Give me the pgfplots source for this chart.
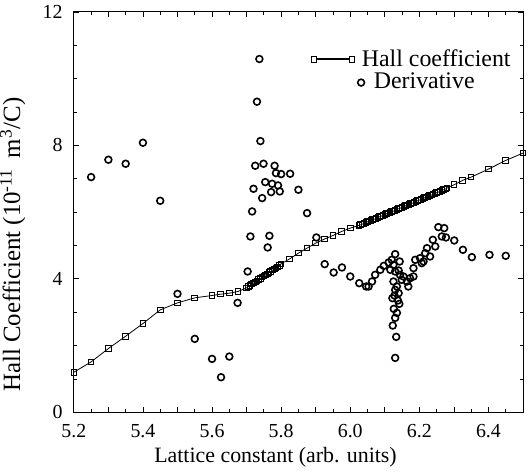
\documentclass[border=0pt]{standalone}
\usepackage{fontspec}
\setmainfont{Liberation Serif}
\usepackage{pgfplots}
\pgfplotsset{compat=1.18}
\pgfplotsset{
  hallleg/.style={legend image code/.code={%
    \draw[##1,mark=none,line width=1.2bp] (1.4bp,0bp) -- (17.6bp,0bp);
    \draw[##1] plot coordinates {(0bp,0bp)};
    \draw[##1] plot coordinates {(19bp,0bp)};}},
  derleg/.style={legend image code/.code={%
    \begin{pgfinterruptboundingbox}\draw[##1] plot coordinates {(23.5bp,0bp)};\end{pgfinterruptboundingbox}
    \path (0bp,0bp) (19bp,0bp);}},
}
\begin{document}
\begin{tikzpicture}
\begin{axis}[
  name=ax,
  scale only axis, width=225bp, height=200.5bp,
  xmin=5.2, xmax=6.5, ymin=0, ymax=12,
  xtick={5.2,5.3,5.4,5.5,5.6,5.7,5.8,5.9,6.0,6.1,6.2,6.3,6.4,6.5},
  xticklabels={5.2,,5.4,,5.6,,5.8,,6.0,,6.2,,6.4,},
  minor x tick num=1,
  ytick={0,4,8,12}, minor y tick num=3,
  tick align=inside,
  major tick length=2.5bp, minor tick length=1.5bp,
  tick style={black, line width=0.4bp},
  axis line style={line width=0.5bp},
  /pgf/number format/assume math mode=true,
  tick label style={font=\fontsize{10}{12}\selectfont, inner sep=0pt},
  xticklabel shift=6bp, yticklabel shift=5.5bp,
  xlabel={Lattice constant (arb. units)},
  ylabel={Hall Coefficient (10\textsuperscript{-11} \,m\textsuperscript{3}/C)},
  xlabel style={font=\fontsize{11}{13}\selectfont, inner sep=0pt, at={(axis description cs:0.449,-0.112)}, anchor=center},
  ylabel style={font=\fontsize{12.5}{14}\selectfont, inner sep=0pt, at={(axis description cs:-0.136,0.419)}, anchor=center},
  legend style={draw=none, fill=none, at={(axis description cs:0.528,0.91)}, anchor=north west,
    font=\fontsize{12}{14}\selectfont, inner sep=0pt, row sep=1bp, nodes={inner sep=0.5bp},
    /tikz/every odd column/.append style={column sep=3bp}},
  legend cell align=left,
]
\addplot[black, line width=0.4bp, mark=square, mark size=1.4bp, mark options={solid, line width=0.5bp}, hallleg]
table {
5.200 1.20
5.250 1.51
5.300 1.91
5.350 2.28
5.400 2.66
5.450 3.07
5.500 3.28
5.550 3.43
5.600 3.50
5.625 3.54
5.650 3.57
5.675 3.62
5.700 3.73
5.705 3.77
5.710 3.80
5.715 3.84
5.720 3.87
5.725 3.91
5.730 3.94
5.735 3.98
5.740 4.01
5.745 4.05
5.750 4.08
5.755 4.12
5.760 4.15
5.765 4.19
5.770 4.22
5.775 4.26
5.780 4.29
5.785 4.33
5.790 4.36
5.795 4.40
5.800 4.45
5.825 4.60
5.850 4.77
5.875 4.92
5.900 5.07
5.925 5.19
5.950 5.30
5.975 5.42
6.000 5.52
6.025 5.60
6.030 5.62
6.035 5.64
6.040 5.66
6.045 5.68
6.050 5.71
6.055 5.73
6.060 5.75
6.065 5.77
6.070 5.79
6.075 5.81
6.080 5.84
6.085 5.86
6.090 5.88
6.095 5.90
6.100 5.92
6.105 5.95
6.110 5.97
6.115 5.99
6.120 6.01
6.125 6.03
6.130 6.05
6.135 6.08
6.140 6.10
6.145 6.12
6.150 6.14
6.155 6.16
6.160 6.19
6.165 6.21
6.170 6.23
6.175 6.25
6.180 6.27
6.185 6.29
6.190 6.32
6.195 6.34
6.200 6.36
6.205 6.38
6.210 6.40
6.215 6.43
6.220 6.45
6.225 6.47
6.230 6.49
6.235 6.51
6.240 6.54
6.245 6.56
6.250 6.58
6.255 6.60
6.260 6.62
6.265 6.65
6.270 6.67
6.275 6.69
6.280 6.72
6.300 6.82
6.325 6.95
6.350 7.05
6.400 7.29
6.450 7.55
6.500 7.77
};
\addlegendentry{Hall coefficient}
\addplot[only marks, black, mark=o, mark size=1.7bp, mark options={line width=0.8bp}, derleg]
table {
5.250 7.05
5.300 7.57
5.350 7.45
5.400 8.08
5.450 6.34
5.500 3.55
5.550 2.20
5.600 1.60
5.626 1.05
5.650 1.67
5.674 3.28
5.703 4.22
5.711 5.27
5.716 6.02
5.720 6.70
5.725 7.39
5.730 9.31
5.737 10.59
5.740 8.13
5.745 6.42
5.749 7.45
5.754 6.90
5.761 4.94
5.766 5.29
5.771 6.60
5.774 6.85
5.781 7.39
5.785 7.17
5.791 6.80
5.796 6.62
5.800 7.14
5.826 7.15
5.850 6.67
5.875 5.97
5.902 5.24
5.926 4.44
5.952 4.19
5.976 4.34
6.000 4.07
6.026 3.87
6.046 3.77
6.053 3.77
6.063 3.92
6.072 4.12
6.087 4.27
6.097 4.39
6.111 4.49
6.120 4.57
6.130 4.74
6.143 4.52
6.125 4.42
6.116 4.27
6.130 4.22
6.140 4.25
6.144 4.12
6.154 4.07
6.149 3.97
6.164 3.92
6.173 4.02
6.183 4.07
6.168 3.77
6.183 4.32
6.188 4.57
6.207 4.47
6.202 4.62
6.212 4.52
6.217 4.77
6.222 4.92
6.231 4.67
6.239 5.17
6.246 4.97
6.255 5.55
6.272 5.52
6.265 5.27
6.277 5.24
6.301 5.15
6.326 4.87
6.352 4.65
6.403 4.72
6.450 4.69
6.125 3.92
6.135 3.77
6.130 3.67
6.140 3.57
6.128 3.50
6.122 3.42
6.138 3.35
6.142 3.25
6.126 3.10
6.135 2.98
6.130 2.83
6.123 2.60
6.133 2.26
6.130 1.63
};
\addlegendentry{\hspace{6bp}Derivative}
\end{axis}
\path (ax.south west) -- ++(-36.5bp,0) (ax.south west) -- ++(0,-31.5bp)
      (ax.north east) -- ++(4.5bp,6bp);
\end{tikzpicture}
\end{document}
